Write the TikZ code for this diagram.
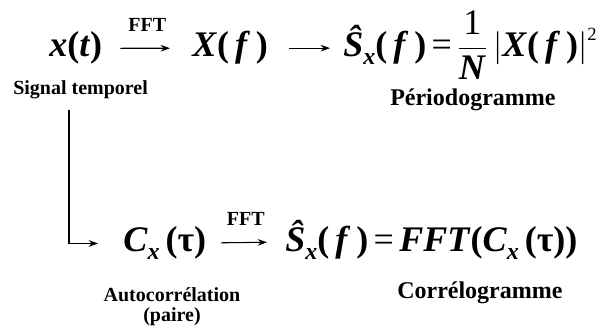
\documentclass[tikz,border=0pt]{standalone}
\usepackage{amsmath}
\usepackage{fontspec}
\setmainfont{Liberation Serif}
\usetikzlibrary{arrows.meta}

\newcommand{\bi}[1]{\textbf{\textit{#1}}}
\newcommand{\pb}[1]{\textbf{(}#1\textbf{)}}
\newcommand{\sbx}{\raisebox{-0.22em}{\fontsize{18}{18}\selectfont\bi{x}}}

\begin{document}
\begin{tikzpicture}[x=0.75pt, y=-0.75pt,
  eq/.style={inner sep=0pt, font=\fontsize{27}{30}\selectfont},
  lbl/.style={inner sep=0pt, font=\fontsize{15}{15}\selectfont\bfseries},
  big/.style={inner sep=0pt, font=\fontsize{18}{20}\selectfont\bfseries},
  arr/.style={-{Stealth[length=7pt, width=5pt]}, line width=0.8pt}]
  \useasboundingbox (0,0) rectangle (600,331);

  % top row: periodogramme
  \node[eq, anchor=base west] (xt) at (49,57) {\bi{x}\pb{\bi{t}}};
  \node[eq, anchor=base west] (Xf) at (192,57) {\bi{X}\pb{\,\bi{f}\,}};
  \node[eq, anchor=base west] (Sper) at (343,57)
    {\bi{Ŝ}\sbx\pb{\,\bi{f}\,}\hspace{0.15em}=\hspace{0.15em}$\displaystyle
     \frac{\text{1}}{\text{\bi{N}}}\left|\text{\bi{X}\pb{\,\bi{f}\,}}\right|^{\mbox{\fontsize{14}{14}\selectfont 2}}$};
  \node[lbl, anchor=base west] (lsig) at (13,95) {Signal temporel};
  \node[big, anchor=base west] (lper) at (390,106) {Périodogramme};

  \draw[arr, shorten <=13.5pt, shorten >=16.5pt] (xt) --
    node[lbl, above=12pt] {FFT} (Xf);
  \draw[arr, shorten <=15.75pt, shorten >=9.75pt] (Xf) -- (Xf -| Sper.west);

  % bottom row: correlogramme
  \node[eq, anchor=base west] (Cx) at (123,252) {\bi{C}\sbx\,\pb{\textbf{τ}}};
  \node[eq, anchor=base west] (Scor) at (285,252)
    {\bi{Ŝ}\sbx\pb{\,\bi{f}\,}\hspace{0.15em}=\hspace{0.15em}\bi{FFT}\pb{\bi{C}\sbx\,\pb{\textbf{τ}}}};
  \node[lbl, anchor=north, align=center] (lauto) at (172,287) {Autocorrélation\\(paire)};
  \node[big, anchor=base west] (lcor) at (397,299) {Corrélogramme};

  \draw[arr, shorten <=11pt, shorten >=13.5pt] (Cx) --
    node[lbl, above=12pt] {FFT} (Scor);

  \coordinate (tap) at (69,110);
  \draw[arr, shorten >=18.75pt] (tap) |- (Cx);
\end{tikzpicture}
\end{document}
